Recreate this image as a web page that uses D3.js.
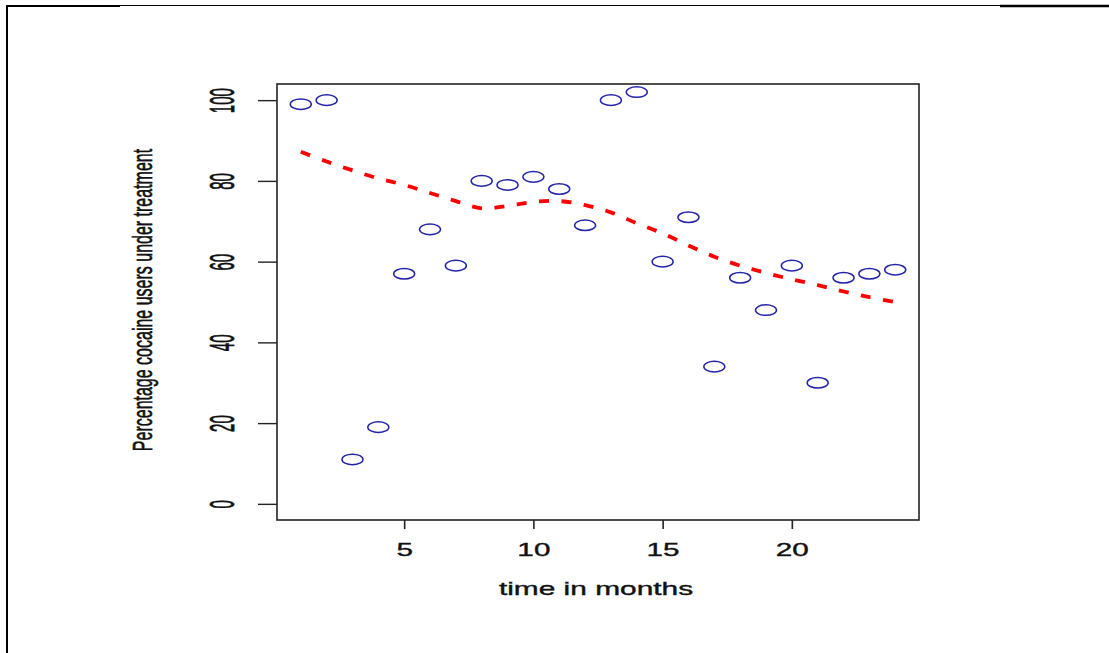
<!DOCTYPE html>
<html>
<head>
<meta charset="utf-8">
<script src="https://cdn.jsdelivr.net/npm/d3@7"></script>
<style>
  body { margin: 0; background: #fff; }
  text { font-family: "Liberation Sans", Arial, sans-serif; fill: #111; stroke: #111; stroke-width: 0.35; }
</style>
</head>
<body>
<div id="chart"></div>
<script>
// months 1..24
const months = d3.range(1, 25);
// percentage of cocaine users under treatment
const pct = [99, 100, 11, 19, 57, 68, 59, 80, 79, 81, 78, 69,
             100, 102, 60, 71, 34, 56, 48, 59, 30, 56, 57, 58];
// smoothed trend (red dashed)
const smooth = [87.2, 84.8, 82.6, 80.6, 79.0, 77.0, 75.0, 73.2, 73.8, 74.8, 75.0, 74.0,
                72.2, 69.5, 67.0, 64.0, 61.2, 59.0, 57.2, 55.6, 54.2, 52.6, 51.2, 50.0];
const xTicks = [5, 10, 15, 20];
const yTicks = [0, 20, 40, 60, 80, 100];

const W = 1109, H = 653;
const plot = { left: 277, right: 919, top: 84, bottom: 520 };

const svg = d3.select('#chart')
  .append('svg')
  .attr('width', W)
  .attr('height', H);

// outer frame lines (page border bits)
svg.append('line').attr('x1', 7).attr('x2', 7).attr('y1', 5).attr('y2', H)
  .attr('stroke', '#000').attr('stroke-width', 2);
svg.append('line').attr('x1', 6).attr('x2', 120).attr('y1', 6).attr('y2', 6)
  .attr('stroke', '#000').attr('stroke-width', 2);
svg.append('line').attr('x1', 120).attr('x2', 1000).attr('y1', 5.5).attr('y2', 5.5)
  .attr('stroke', '#000').attr('stroke-width', 1);
svg.append('line').attr('x1', 1000).attr('x2', 1109).attr('y1', 6).attr('y2', 6)
  .attr('stroke', '#000').attr('stroke-width', 2.5);

const x = d3.scaleLinear()
  .domain([0.08, 24.92])
  .range([plot.left, plot.right]);

const y = d3.scaleLinear()
  .domain([-4, 104])
  .range([plot.bottom, plot.top]);

// plot box
svg.append('rect')
  .attr('x', plot.left)
  .attr('y', plot.top)
  .attr('width', plot.right - plot.left)
  .attr('height', plot.bottom - plot.top)
  .attr('fill', 'none')
  .attr('stroke', '#222')
  .attr('stroke-width', 1.6);

// x axis
const xAxis = svg.append('g')
  .attr('transform', `translate(0, ${plot.bottom})`)
  .call(d3.axisBottom(x).tickValues(xTicks).tickSize(9).tickFormat(d3.format('d')));
xAxis.select('.domain').remove();
xAxis.selectAll('line').attr('stroke', '#222').attr('stroke-width', 1.6);
xAxis.selectAll('text')
  .attr('y', null)
  .attr('dy', null)
  .attr('fill', '#111')
  .attr('font-size', 18)
  .attr('transform', 'translate(0, 36) scale(1.65, 1)');

// y axis
const yAxis = svg.append('g')
  .attr('transform', `translate(${plot.left}, 0)`)
  .call(d3.axisLeft(y).tickValues(yTicks).tickSize(19).tickFormat(d3.format('d')));
yAxis.select('.domain').remove();
yAxis.selectAll('line').attr('stroke', '#222').attr('stroke-width', 1.4);
yAxis.selectAll('text')
  .attr('x', null)
  .attr('dy', null)
  .attr('fill', '#111')
  .attr('font-size', 15)
  .attr('text-anchor', 'middle')
  .attr('transform', 'translate(-43, 0) scale(2.35, 1) rotate(-90)');

// axis titles
svg.append('text')
  .text('time in months')
  .attr('font-size', 18)
  .attr('text-anchor', 'middle')
  .attr('transform', 'translate(596, 595) scale(1.66, 1)');

svg.append('text')
  .text('Percentage cocaine users under treatment')
  .attr('font-size', 16)
  .attr('text-anchor', 'middle')
  .attr('transform', 'translate(152, 300) scale(1.75, 1) rotate(-90)');

// trend line
const line = d3.line()
  .x((d, i) => x(months[i]))
  .y(d => y(d))
  .curve(d3.curveCatmullRom);

svg.append('path')
  .datum(smooth)
  .attr('d', line)
  .attr('fill', 'none')
  .attr('stroke', '#ff0000')
  .attr('stroke-width', 3.8)
  .attr('stroke-dasharray', '10,12.5');

// points
svg.append('g')
  .selectAll('ellipse')
  .data(pct)
  .join('ellipse')
  .attr('cx', (d, i) => x(months[i]))
  .attr('cy', d => y(d))
  .attr('rx', 10.5)
  .attr('ry', 5.3)
  .attr('fill', 'none')
  .attr('stroke', '#2424a8')
  .attr('stroke-width', 1.5);
</script>
</body>
</html>
